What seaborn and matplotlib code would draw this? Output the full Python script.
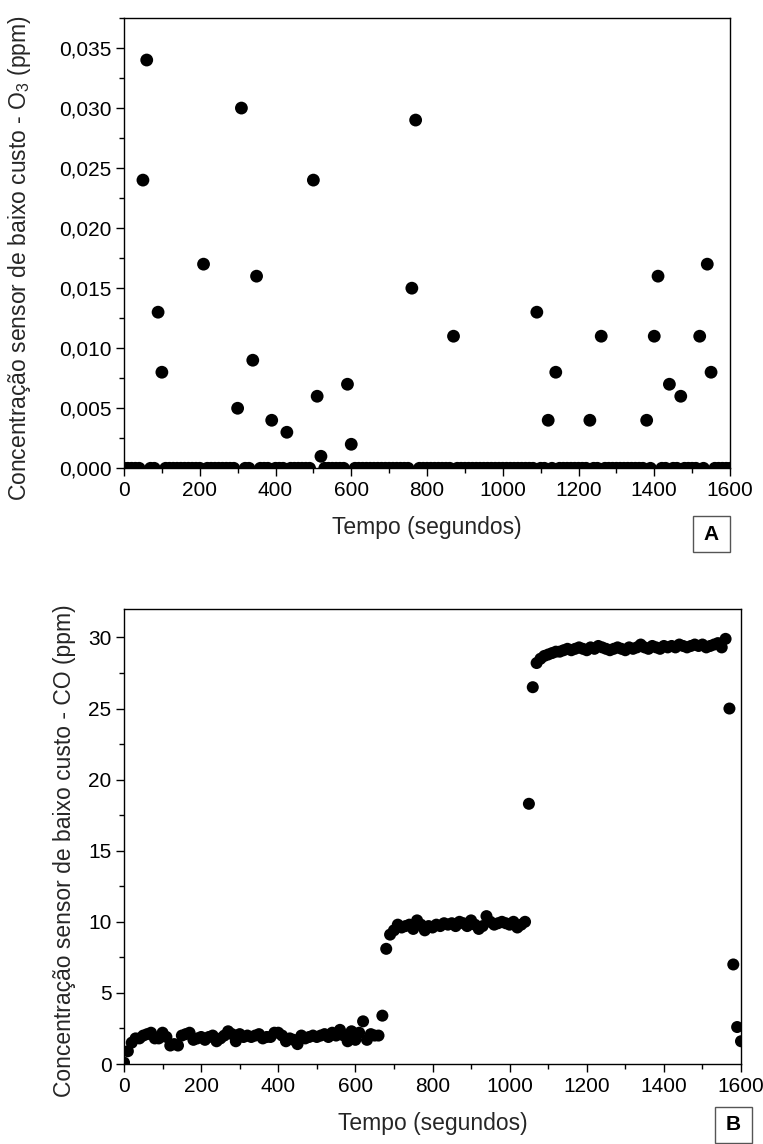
import numpy as np
import pandas as pd
import matplotlib
matplotlib.use("Agg")
import matplotlib.pyplot as plt
import seaborn as sns
from matplotlib.ticker import MultipleLocator, FuncFormatter
from matplotlib.patches import Rectangle

# ---------------- Data ----------------
# Panel A: O3 low-cost sensor, sampled every 10 s; zero except for these readings
o3_time = np.arange(0, 1601, 10)
o3_peak_times = [50, 60, 90, 100, 210, 300, 310, 340, 350, 390, 430, 500, 510,
                 520, 590, 600, 760, 770, 870, 1090, 1120, 1140, 1230, 1260,
                 1380, 1400, 1410, 1440, 1470, 1520, 1540, 1550]
o3_peak_values = [0.024, 0.034, 0.013, 0.008, 0.017, 0.005, 0.030, 0.009, 0.016,
                  0.004, 0.003, 0.024, 0.006, 0.001, 0.007, 0.002, 0.015, 0.029,
                  0.011, 0.013, 0.004, 0.008, 0.004, 0.011, 0.004, 0.011, 0.016,
                  0.007, 0.006, 0.011, 0.017, 0.008]

# Panel B: CO low-cost sensor, sampled every 10 s
co_time = np.arange(0, 1601, 10)
co_values = [
    0.1, 0.9, 1.5, 1.8, 1.8, 2.0, 2.1, 2.2, 1.8, 1.8,
    2.2, 1.9, 1.3, 1.4, 1.3, 2.0, 2.1, 2.2, 1.7, 1.8,
    1.9, 1.7, 1.9, 2.0, 1.6, 1.8, 2.0, 2.3, 2.1, 1.6,
    2.1, 1.9, 2.0, 1.9, 2.0, 2.1, 1.8, 1.9, 1.9, 2.2,
    2.2, 2.0, 1.6, 1.8, 1.7, 1.4, 2.0, 1.8, 1.9, 2.0,
    1.9, 2.0, 2.1, 1.9, 2.2, 2.0, 2.4, 2.0, 1.6, 2.3,
    1.7, 2.2, 3.0, 1.7, 2.1, 2.0, 2.0,
    3.4, 8.1,
    9.1, 9.4, 9.8, 9.6, 9.7, 9.8, 9.5, 10.1, 9.8, 9.4,
    9.7, 9.6, 9.8, 9.7, 9.9, 9.8, 9.9, 9.7, 10.0, 9.9,
    9.7, 10.1, 9.8, 9.5, 9.7, 10.4, 10.0, 9.8, 9.9, 10.0,
    9.9, 9.8, 10.0, 9.6, 9.8, 10.0,
    18.3, 26.5,
    28.2, 28.5, 28.7, 28.8, 28.9, 29.0, 29.0, 29.1, 29.2, 29.1,
    29.2, 29.3, 29.2, 29.1, 29.3, 29.2, 29.4, 29.3, 29.2, 29.1,
    29.2, 29.3, 29.2, 29.1, 29.3, 29.2, 29.3, 29.5, 29.3, 29.2,
    29.4, 29.3, 29.2, 29.4, 29.3, 29.4, 29.3, 29.5, 29.4, 29.3,
    29.4, 29.5, 29.4, 29.5, 29.3, 29.4, 29.5, 29.6, 29.3, 29.9,
    25.0, 7.0, 2.6, 1.6,
]

peak_map = dict(zip(o3_peak_times, o3_peak_values))
o3_values = [peak_map.get(int(t), 0.0) for t in o3_time]
df_o3 = pd.DataFrame({"t": o3_time, "v": o3_values})
df_co = pd.DataFrame({"t": co_time, "v": co_values})

# ---------------- Style ----------------
sns.set_style("ticks")
plt.rcParams["font.family"] = ["Liberation Sans", "DejaVu Sans"]
plt.rcParams["mathtext.fontset"] = "custom"
plt.rcParams["mathtext.rm"] = "Liberation Sans"
plt.rcParams["mathtext.it"] = "Liberation Sans:italic"
plt.rcParams["axes.linewidth"] = 1.0
plt.rcParams["axes.edgecolor"] = "black"

W, H = 763, 1144
fig = plt.figure(figsize=(W / 100, H / 100), dpi=100)


def fx(px):
    return px / W


def fy(py):
    return 1 - py / H


def style_axes(ax, ytick_major, ytick_minor):
    for sp in ax.spines.values():
        sp.set_visible(True)
        sp.set_linewidth(1.0)
        sp.set_color("black")
    ax.xaxis.set_major_locator(MultipleLocator(200))
    ax.xaxis.set_minor_locator(MultipleLocator(100))
    ax.yaxis.set_major_locator(MultipleLocator(ytick_major))
    ax.yaxis.set_minor_locator(MultipleLocator(ytick_minor))
    ax.tick_params(which="major", direction="out", length=6, width=1.0,
                   labelsize=15, colors="black", pad=3)
    ax.tick_params(which="minor", direction="out", length=3.4, width=1.0,
                   colors="black")
    ax.tick_params(top=False, right=False, which="both")


# ---------------- Panel A ----------------
axA = fig.add_axes([fx(124), fy(468.3), fx(730) - fx(124), fy(18) - fy(468.3)])
sns.scatterplot(data=df_o3, x="t", y="v", ax=axA, color="black", s=85,
                edgecolor="none", linewidth=0, legend=False)
axA.set_xlim(0, 1600)
axA.set_ylim(0, 0.0375)
style_axes(axA, 0.005, 0.0025)
axA.yaxis.set_major_formatter(FuncFormatter(lambda v, p: f"{v:.3f}".replace(".", ",")))
axA.set_xlabel("Tempo (segundos)", fontsize=16.5)
axA.set_ylabel(r"Concentração sensor de baixo custo - O$_{\mathrm{3}}$ (ppm)", fontsize=16.5)
axA.xaxis.set_label_coords(0.5, -0.105)
axA.yaxis.set_label_coords(-0.150, 0.467)

# ---------------- Panel B ----------------
axB = fig.add_axes([fx(124), fy(1064), fx(741) - fx(124), fy(609) - fy(1064)])
sns.scatterplot(data=df_co, x="t", y="v", ax=axB, color="black", s=75,
                edgecolor="none", linewidth=0, legend=False)
axB.set_xlim(0, 1600)
axB.set_ylim(0, 32)
style_axes(axB, 5, 2.5)
axB.set_xlabel("Tempo (segundos)", fontsize=16.5)
axB.set_ylabel("Concentração sensor de baixo custo - CO (ppm)", fontsize=16.5)
axB.xaxis.set_label_coords(0.5, -0.105)
axB.yaxis.set_label_coords(-0.078, 0.468)

# ---------------- Panel tags ----------------
for label, (x0, y0, x1, y1) in [("A", (693, 516, 730, 552)), ("B", (715, 1107, 752, 1143))]:
    rect = Rectangle((fx(x0), fy(y1)), fx(x1) - fx(x0), fy(y0) - fy(y1),
                     transform=fig.transFigure, facecolor="white",
                     edgecolor="#555555", linewidth=1.0)
    fig.patches.append(rect)
    fig.text(fx((x0 + x1) / 2), fy((y0 + y1) / 2), label, ha="center", va="center",
             fontsize=15, fontweight="bold", color="black")

fig.savefig("out.png", dpi=100)
